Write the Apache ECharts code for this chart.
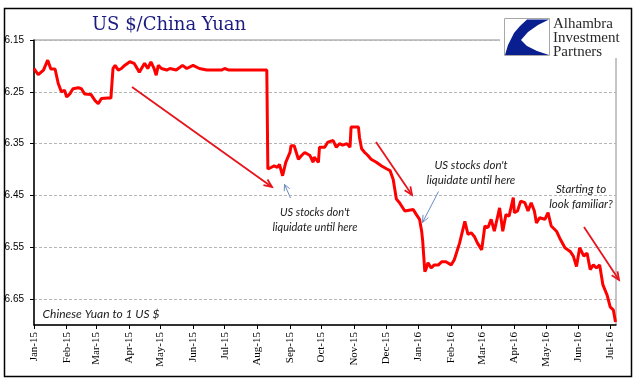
<!DOCTYPE html>
<html><head><meta charset="utf-8">
<script src="https://cdn.jsdelivr.net/npm/echarts@6/dist/echarts.min.js"></script>
<style>html,body{margin:0;padding:0;background:#fff}#c{width:641px;height:381px}</style>
</head><body><div id="c"></div>
<script>
const dates = [
'2015-01-01','2015-01-05','2015-01-10','2015-01-14','2015-01-17','2015-01-21','2015-01-24','2015-01-27','2015-01-30',
'2015-02-01','2015-02-04','2015-02-07','2015-02-12','2015-02-15','2015-02-18','2015-02-24','2015-02-28',
'2015-03-03','2015-03-06','2015-03-12','2015-03-15','2015-03-17','2015-03-19','2015-03-22','2015-03-25','2015-03-28',
'2015-04-02','2015-04-06','2015-04-11','2015-04-16','2015-04-19','2015-04-22','2015-04-25','2015-04-27','2015-04-29',
'2015-05-02','2015-05-07','2015-05-10','2015-05-16','2015-05-22','2015-05-26',
'2015-06-01','2015-06-07','2015-06-14','2015-06-28','2015-07-01','2015-07-05','2015-07-12','2015-07-30','2015-08-10',
'2015-08-11','2015-08-14','2015-08-17','2015-08-20','2015-08-22','2015-08-25','2015-08-28',
'2015-09-01','2015-09-02','2015-09-05','2015-09-09','2015-09-12','2015-09-15','2015-09-20','2015-09-23','2015-09-24','2015-09-28','2015-09-29',
'2015-10-04','2015-10-07','2015-10-12','2015-10-15','2015-10-18','2015-10-21','2015-10-25','2015-10-28','2015-10-29',
'2015-11-05','2015-11-06','2015-11-08','2015-11-11','2015-11-14','2015-11-17','2015-11-22','2015-11-27',
'2015-12-02','2015-12-05','2015-12-08','2015-12-11','2015-12-14','2015-12-19','2015-12-27','2015-12-30',
'2016-01-02','2016-01-04','2016-01-05','2016-01-07','2016-01-08','2016-01-10','2016-01-13','2016-01-16','2016-01-20','2016-01-23','2016-01-27',
'2016-02-01','2016-02-04','2016-02-09','2016-02-14','2016-02-17','2016-02-20','2016-02-23','2016-02-26',
'2016-03-01','2016-03-04','2016-03-07','2016-03-10','2016-03-13','2016-03-18','2016-03-21','2016-03-24','2016-03-27','2016-03-31',
'2016-04-01','2016-04-04','2016-04-07','2016-04-11','2016-04-14','2016-04-17','2016-04-20','2016-04-22','2016-04-25','2016-04-30',
'2016-05-03','2016-05-06','2016-05-11','2016-05-14','2016-05-19','2016-05-24','2016-05-27','2016-05-30',
'2016-06-02','2016-06-06','2016-06-09','2016-06-12','2016-06-15','2016-06-18','2016-06-21','2016-06-24','2016-06-28',
'2016-07-01','2016-07-04','2016-07-06'
];
const values = [
6.205,6.217,6.208,6.189,6.206,6.206,6.234,6.250,6.247,
6.260,6.254,6.244,6.242,6.244,6.254,6.255,6.267,
6.273,6.263,6.262,6.262,6.205,6.199,6.208,6.205,6.199,
6.192,6.195,6.212,6.195,6.205,6.192,6.205,6.218,6.199,
6.205,6.208,6.205,6.208,6.199,6.205,
6.199,6.205,6.208,6.208,6.205,6.208,6.208,6.208,6.208,
6.399,6.396,6.393,6.396,6.390,6.412,6.386,
6.367,6.354,6.354,6.380,6.373,6.367,6.373,6.386,6.376,6.386,6.357,
6.357,6.347,6.344,6.357,6.350,6.353,6.350,6.357,6.318,
6.318,6.338,6.360,6.367,6.373,6.380,6.386,6.393,
6.399,6.402,6.419,6.457,6.464,6.480,6.477,6.487,
6.496,6.519,6.538,6.597,6.593,6.580,6.590,6.584,6.584,6.578,6.578,
6.584,6.574,6.542,6.500,6.525,6.522,6.529,6.542,
6.555,6.509,6.512,6.496,6.519,6.474,6.519,6.487,6.490,6.454,
6.483,6.480,6.461,6.464,6.480,6.464,6.480,6.503,6.493,6.496,
6.483,6.509,6.519,6.532,6.551,6.558,6.567,6.587,
6.551,6.567,6.561,6.593,6.584,6.590,6.584,6.622,6.642,
6.665,6.671,6.694
];
const monthTicks = ['2015-01-01','2015-02-01','2015-03-01','2015-04-01','2015-05-01','2015-06-01','2015-07-01','2015-08-01','2015-09-01','2015-10-01','2015-11-01','2015-12-01','2016-01-01','2016-02-01','2016-03-01','2016-04-01','2016-05-01','2016-06-01','2016-07-01'];
const monthLabels = ['Jan-15','Feb-15','Mar-15','Apr-15','May-15','Jun-15','Jul-15','Aug-15','Sep-15','Oct-15','Nov-15','Dec-15','Jan-16','Feb-16','Mar-16','Apr-16','May-16','Jun-16','Jul-16'];
const yTicks = [6.15,6.25,6.35,6.45,6.55,6.65];
const yMin = 6.15, yMax = 6.70;
const xMin = '2015-01-01', xMax = '2016-07-06';

function ts(s){const p=s.split('-');return Date.UTC(+p[0],+p[1]-1,+p[2]);}
const monthTs = monthTicks.map(ts);
const seriesData = dates.map((d,i)=>[ts(d), values[i]]);

function arrow(x1,y1,x2,y2,color,w,len,half){
  const dx=x2-x1, dy=y2-y1, L=Math.hypot(dx,dy), ux=dx/L, uy=dy/L;
  const bx=x2-ux*len, by=y2-uy*len;
  const px=-uy*half, py=ux*half;
  return {type:'group', children:[
    {type:'line', z:50, shape:{x1:x1,y1:y1,x2:x2,y2:y2}, style:{stroke:color,lineWidth:w}},
    {type:'polyline', z:50, shape:{points:[[bx+px,by+py],[x2,y2],[bx-px,by-py]]}, style:{stroke:color,lineWidth:w,fill:null}}
  ]};
}
const italic = {fontStyle:'italic', fontFamily:'Lato', fill:'#1a1a1a', textAlign:'center', textVerticalAlign:'middle'};

const chart = echarts.init(document.getElementById('c'), null, {renderer:'canvas'});
chart.setOption({
  animation:false,
  backgroundColor:'#fff',
  grid:{left:34, right:25, top:40, bottom:56, show:true, borderColor:'#8c8c8c', borderWidth:1, backgroundColor:'transparent'},
  xAxis:{
    type:'value', min:ts(xMin), max:ts(xMax)+43200000,
    axisLine:{onZero:false, lineStyle:{color:'#000', width:1.5}},
    axisTick:{show:true, length:4, customValues:monthTs, lineStyle:{color:'#000'}},
    splitLine:{show:false},
    axisLabel:{customValues:monthTs, rotate:90, margin:7, fontFamily:'Liberation Serif', fontSize:11, color:'#000',
      formatter:function(v){const i=monthTs.indexOf(v);return i>=0?monthLabels[i]:'';}}
  },
  yAxis:{
    type:'value', inverse:true, min:yMin, max:yMax,
    axisLine:{show:true, onZero:false, lineStyle:{color:'#000', width:1.5}},
    axisTick:{show:true, length:4, customValues:yTicks, lineStyle:{color:'#000'}},
    axisLabel:{customValues:yTicks, margin:10, fontFamily:'Liberation Sans', fontSize:10, color:'#000',
      formatter:function(v){return v.toFixed(2);}},
    splitLine:{show:true, lineStyle:{color:'#b4b4b4', type:[3,2], width:1}}
  },
  series:[{type:'line', data:seriesData, showSymbol:false, lineStyle:{color:'#ff0000', width:3}, z:10}],
  graphic:{elements:[
    {type:'rect', z:100, shape:{x:4.5,y:8.5,width:627,height:368}, style:{stroke:'#000',lineWidth:1.5,fill:null}},
    {type:'text', z:60, x:169, y:25, style:{text:'US $/China Yuan', fontFamily:'DejaVu Serif', fontSize:18, fill:'#1c1c80', textAlign:'center', textVerticalAlign:'middle'}},
    {type:'rect', z:60, shape:{x:500,y:10,width:128,height:48}, style:{fill:'#fff'}},
    {type:'rect', z:61, shape:{x:504.5,y:18.5,width:45,height:37}, style:{fill:'#fff', stroke:'#a8a8a8', lineWidth:1}},
    {type:'polygon', z:62, shape:{points:[[527,19.5],[549,19.5],[538,25],[528,32],[521,40],[527,46],[537,51],[549,55],[505,55],[508,45],[514,33],[520,26]]}, style:{fill:'#0a1f8f'}},
    {type:'text', z:62, x:553, y:24, style:{text:'Alhambra', fontFamily:'Liberation Serif', fontSize:15, fill:'#2a2a2a', textVerticalAlign:'middle'}},
    {type:'text', z:62, x:553, y:38, style:{text:'Investment', fontFamily:'Liberation Serif', fontSize:15, fill:'#2a2a2a', textVerticalAlign:'middle'}},
    {type:'text', z:62, x:553, y:52, style:{text:'Partners', fontFamily:'Liberation Serif', fontSize:15, fill:'#2a2a2a', textVerticalAlign:'middle'}},
    {type:'text', z:62, x:101, y:314, style:Object.assign({}, italic, {text:'Chinese Yuan to 1 US $', fontSize:12})},
    {type:'text', z:62, x:315, y:212, style:Object.assign({}, italic, {text:"US stocks don't", fontSize:11})},
    {type:'text', z:62, x:315, y:227, style:Object.assign({}, italic, {text:'liquidate until here', fontSize:11})},
    {type:'text', z:62, x:471, y:165, style:Object.assign({}, italic, {text:"US stocks don't", fontSize:11.5})},
    {type:'text', z:62, x:471, y:180, style:Object.assign({}, italic, {text:'liquidate until here', fontSize:11.5})},
    {type:'text', z:62, x:581, y:189, style:Object.assign({}, italic, {text:'Starting to', fontSize:11.5})},
    {type:'text', z:62, x:581, y:204, style:Object.assign({}, italic, {text:'look familiar?', fontSize:11.5})},
    arrow(132,87,272,187,'#e8141c',1.8,8,3.5),
    arrow(376,142,412,195,'#e8141c',1.8,8,3.5),
    arrow(584,227,619,280,'#e8141c',1.8,8,3.5),
    arrow(290.5,198,284.5,184.5,'#6a8cc0',1,6,3),
    arrow(438.5,191.5,422.5,222.5,'#6a8cc0',1,7,3)
  ]}
});
</script>
</body></html>
